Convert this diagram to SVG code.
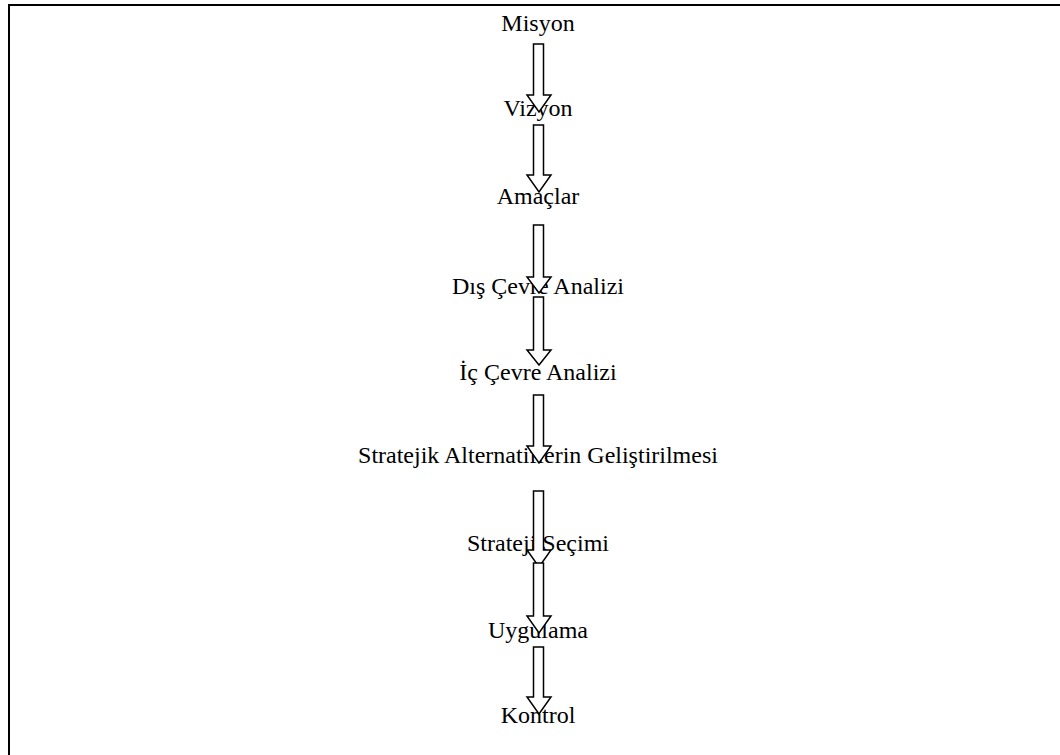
<svg xmlns="http://www.w3.org/2000/svg" width="1060" height="755" viewBox="0 0 1060 755">
<style>
.lbl{font-family:"Liberation Serif","Times New Roman",serif;font-size:24px;fill:#000;text-anchor:middle}
.arr{fill:#fff;stroke:#000;stroke-width:1.5;stroke-linejoin:miter}
.frame{stroke:#000;stroke-width:2;fill:none}
</style>
<rect width="1060" height="755" fill="#fff"/>
<g id="frame">
<line class="frame" x1="8" y1="5" x2="1060" y2="5"/>
<line class="frame" x1="9" y1="4" x2="9" y2="755"/>
</g>
<g id="n-misyon"><text class="lbl" x="538" y="31">Misyon</text></g>
<g id="n-vizyon"><text class="lbl" x="538" y="116">Vizyon</text></g>
<g id="n-amaclar"><text class="lbl" x="538" y="204">Amaçlar</text></g>
<g id="n-dis"><text class="lbl" x="538" y="294">Dış Çevre Analizi</text></g>
<g id="n-ic"><text class="lbl" x="538" y="380">İç Çevre Analizi</text></g>
<g id="n-alt"><text class="lbl" x="538" y="463">Stratejik Alternatiflerin Geliştirilmesi</text></g>
<g id="n-secim"><text class="lbl" x="538" y="551">Strateji Seçimi</text></g>
<g id="n-uyg"><text class="lbl" x="538" y="638">Uygulama</text></g>
<g id="n-kontrol"><text class="lbl" x="538" y="723">Kontrol</text></g>
<g id="connectors">
<path class="arr" d="M533.5,44 H543.5 V95 H551 L539,112 L527,95 H533.5 Z"/>
<path class="arr" d="M533.5,125 H543.5 V175 H551 L539,192 L527,175 H533.5 Z"/>
<path class="arr" d="M533.5,225 H543.5 V277 H551 L539,293 L527,277 H533.5 Z"/>
<path class="arr" d="M533.5,297 H543.5 V350 H551 L539,365 L527,350 H533.5 Z"/>
<path class="arr" d="M533.5,395 H543.5 V446 H551 L539,463 L527,446 H533.5 Z"/>
<path class="arr" d="M533.5,491 H543.5 V550 H551 L539,567 L527,550 H533.5 Z"/>
<path class="arr" d="M533.5,563 H543.5 V616 H551 L539,633 L527,616 H533.5 Z"/>
<path class="arr" d="M533.5,647 H543.5 V697 H551 L539,714 L527,697 H533.5 Z"/>
</g>
</svg>
